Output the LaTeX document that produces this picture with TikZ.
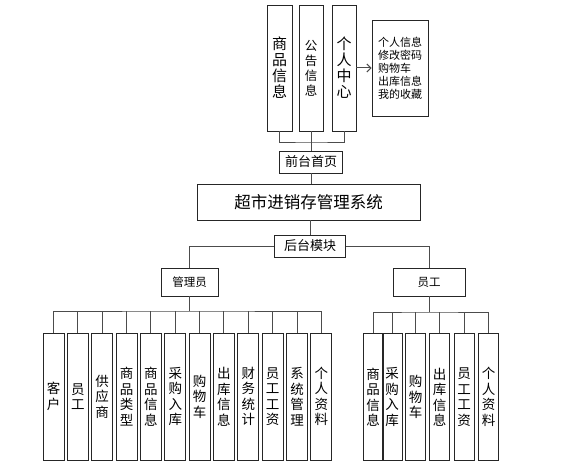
\documentclass[tikz,border=0pt]{standalone}
\usepackage{fontspec}
\newfontfamily\cjk{Noto Sans CJK SC}
\usetikzlibrary{arrows.meta,positioning}
\begin{document}
\begin{tikzpicture}[x=1pt, y=-1pt, >={Straight Barb[length=4pt,width=8pt]},
  box/.style={draw=black!85, line width=0.9pt, inner sep=0pt, align=center, font=\cjk\fontsize{13}{15}\selectfont},
  tall/.style={box, minimum width=21pt, minimum height=127pt, font=\cjk\fontsize{13.5}{15.5}\selectfont},
  link/.style={draw=black!70, line width=1pt}]
\useasboundingbox (0,0) rectangle (561,468);
% front part
\node[box, minimum width=25pt, minimum height=126pt, font=\cjk\fontsize{15}{16}\selectfont] (sp) at (279.5,68) {商\\品\\信\\息};
\node[box, minimum width=24pt, minimum height=126pt, font=\cjk\fontsize{12.5}{15}\selectfont] (gg) at (311,68) {公\\告\\信\\息};
\node[box, minimum width=24pt, minimum height=126pt, font=\cjk\fontsize{15}{16}\selectfont] (gr) at (344,68) {个\\人\\中\\心};
\node[box, minimum width=56pt, minimum height=96pt, align=left, font=\cjk\fontsize{11}{13}\selectfont] (gl) at (400,68) {个人信息\\修改密码\\购物车\\出库信息\\我的收藏};
\node[box, minimum width=63pt, minimum height=22pt] (qt) at (311,162) {前台首页};
\node[box, minimum width=223pt, minimum height=36pt, font=\cjk\fontsize{16.5}{18}\selectfont] (zt) at (308.5,202) {超市进销存管理系统};
\coordinate (tb) at (311,142);
\draw[link] (sp.south) |- (tb) -| (gr.south);
\draw[link] (gg.south) -- (qt.north);
\draw[link,->] (gr.east) -- (gl.west);
\draw[link] (qt.south) -- (qt.south |- zt.north);
% back part
\node[box, minimum width=71pt, minimum height=22pt] (ht) at (310,246) {后台模块};
\node[box, minimum width=57pt, minimum height=28pt, font=\cjk\fontsize{11.5}{13}\selectfont] (gly) at (189.5,282) {管理员};
\node[box, minimum width=72pt, minimum height=28pt, font=\cjk\fontsize{11.5}{13}\selectfont] (yg) at (429,282) {员工};
\draw[link] (ht.north |- zt.south) -- (ht.north);
\draw[link] (ht.west) -| (gly.north); \draw[link] (ht.east) -| (yg.north);
% admin modules
\foreach \t [count=\i] in {{客\\户},{员\\工},{供\\应\\商},{商\\品\\类\\型},{商\\品\\信\\息},{采\\购\\入\\库},{购\\物\\车},{出\\库\\信\\息},{财\\务\\统\\计},{员\\工\\工\\资},{系\\统\\管\\理},{个\\人\\资\\料}}
  \node[tall] (a\i) at ({53.5+24.35*(\i-1)},396.5) {\t};
\coordinate (lb) at (189.5,311);
\draw[link] (gly.south) -- (lb);
\draw[link] (a1.north) |- (lb) -| (a12.north);
\foreach \i in {2,...,11} \draw[link] (a\i.north) -- (a\i.north |- lb);
% staff modules
\foreach \x/\t [count=\i] in {373/{商\\品\\信\\息},392/{采\\购\\入\\库},415.5/{购\\物\\车},439.5/{出\\库\\信\\息},464/{员\\工\\工\\资},488.5/{个\\人\\资\\料}}
  \node[tall, minimum width=20pt] (b\i) at (\x,397) {\t};
\coordinate (rb) at (429,312);
\draw[link] (yg.south) -- (rb);
\draw[link] (b1.north) |- (rb) -| (b6.north);
\foreach \i in {2,...,5} \draw[link] (b\i.north) -- (b\i.north |- rb);
\end{tikzpicture}
\end{document}
